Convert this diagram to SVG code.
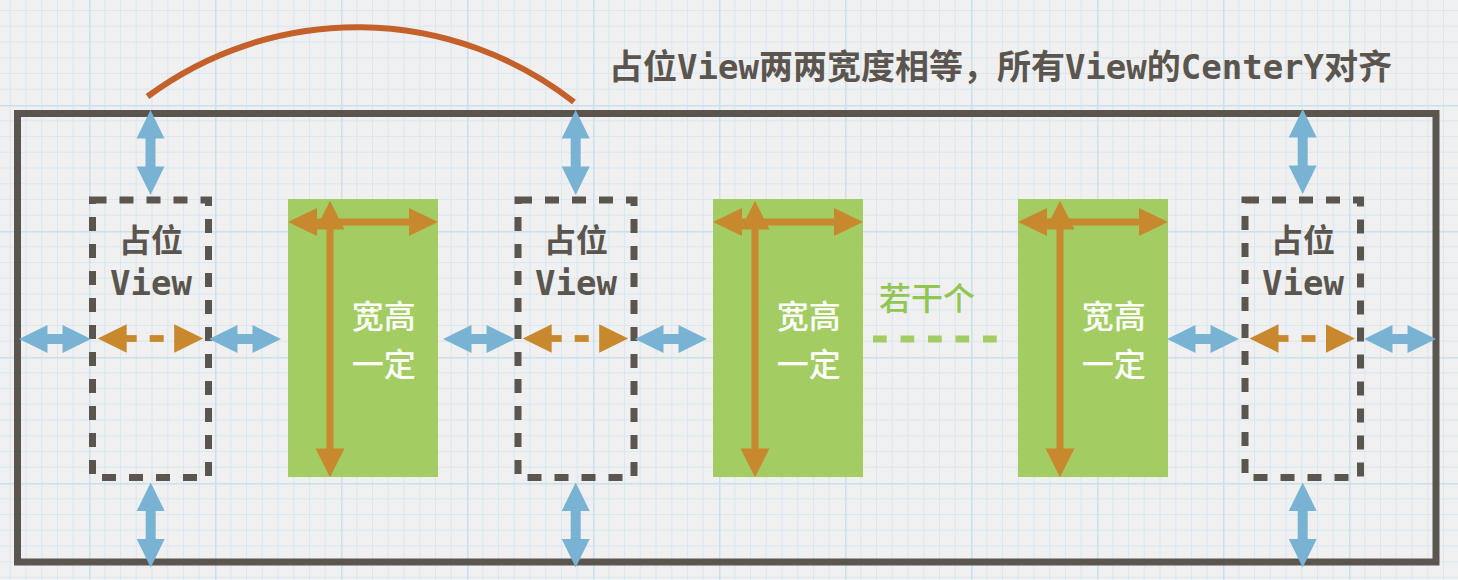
<svg xmlns="http://www.w3.org/2000/svg" xmlns:xlink="http://www.w3.org/1999/xlink" width="1458" height="580" viewBox="0 0 1458 580">
<style>
.txt{font-family:'DejaVu Sans Mono','Noto Sans CJK SC',monospace;font-weight:bold}
.med{font-weight:500}
.dark{fill:#5a554f}
.white{fill:#ffffff}
.greenTxt{fill:#93c553}
.blue{fill:#79b3d4}
.orange{fill:#c8882e}
.ph{fill:none;stroke:#5a554f;stroke-width:7;stroke-dasharray:14 13}
.fix{fill:#a3cd63}
</style>
<defs>
<pattern id="grid" patternUnits="userSpaceOnUse" x="89" y="105" width="126" height="126">
<rect width="126" height="126" fill="#f0f0f0"/>
<path d="M15.75,0V126M31.5,0V126M47.25,0V126M63,0V126M78.75,0V126M94.5,0V126M110.25,0V126M0,15.75H126M0,31.5H126M0,47.25H126M0,63H126M0,78.75H126M0,94.5H126M0,110.25H126" stroke="#d9e7f0" stroke-width="1" fill="none"/>
<path d="M0.5,0V126M0,0.5H126" stroke="#cbe0ec" stroke-width="2" fill="none"/>
</pattern>
<path id="hArrow" d="M0,0 L28.5,-14 L28.5,-5 L43.5,-5 L43.5,-14 L72,0 L43.5,14 L43.5,5 L28.5,5 L28.5,14 Z"/>
<path id="vArrow" d="M0,0 L14,28.5 L5,28.5 L5,56.5 L14,56.5 L0,85 L-14,56.5 L-5,56.5 L-5,28.5 L-14,28.5 Z"/>
<g id="dashArrow">
<path d="M0,0 L29,-14.3 L29,14.3 Z"/>
<rect x="28" y="-3.4" width="11" height="6.8"/>
<rect x="52" y="-3.4" width="14" height="6.8"/>
<path d="M105.5,0 L76.5,-14.3 L76.5,14.3 Z"/>
</g>
<g id="sizeArrows">
<path d="M0,23 L29,9 L29,19.5 L121,19.5 L121,9 L150,23 L121,37 L121,26.5 L29,26.5 L29,37 Z"/>
<path d="M42,1.7 L56.5,30.5 L45.5,30.5 L45.5,249.5 L56.5,249.5 L42,278.3 L27.5,249.5 L38.5,249.5 L38.5,30.5 L27.5,30.5 Z"/>
</g>
</defs>
<rect width="1458" height="580" fill="url(#grid)"/>

<text class="txt dark" x="609" y="79" font-size="34">占位View两两宽度相等，所有View的CenterY对齐</text>

<g id="container">
<rect x="17.5" y="113.5" width="1418.5" height="448.5" fill="none" stroke="#5a554f" stroke-width="7"/>
</g>

<g id="placeholder1">
<rect class="ph" x="92.5" y="200" width="116" height="277.5"/>
<text class="txt dark" x="151" y="251.5" font-size="32" text-anchor="middle">占位</text>
<text class="txt dark" x="151" y="295" font-size="34" text-anchor="middle">View</text>
</g>

<g id="fixed1">
<rect class="fix" x="288" y="199" width="150" height="278"/>
<text class="txt med white" x="383.7" y="327.5" font-size="32" text-anchor="middle">宽高</text>
<text class="txt med white" x="383.7" y="375.5" font-size="32" text-anchor="middle">一定</text>
</g>

<g id="placeholder2">
<rect class="ph" x="518" y="200" width="116" height="277.5"/>
<text class="txt dark" x="576" y="251.5" font-size="32" text-anchor="middle">占位</text>
<text class="txt dark" x="576" y="295" font-size="34" text-anchor="middle">View</text>
</g>

<g id="fixed2">
<rect class="fix" x="713" y="199" width="150" height="278"/>
<text class="txt med white" x="808.7" y="327.5" font-size="32" text-anchor="middle">宽高</text>
<text class="txt med white" x="808.7" y="375.5" font-size="32" text-anchor="middle">一定</text>
</g>

<g id="several">
<text class="txt med greenTxt" x="927" y="310" font-size="32" text-anchor="middle">若干个</text>
<line x1="873" y1="339" x2="997" y2="339" stroke="#a3cd63" stroke-width="7" stroke-dasharray="13.7 13.8"/>
</g>

<g id="fixed3">
<rect class="fix" x="1018" y="199" width="150" height="278"/>
<text class="txt med white" x="1113.7" y="327.5" font-size="32" text-anchor="middle">宽高</text>
<text class="txt med white" x="1113.7" y="375.5" font-size="32" text-anchor="middle">一定</text>
</g>

<g id="placeholder3">
<rect class="ph" x="1245" y="200" width="115.5" height="277.5"/>
<text class="txt dark" x="1303" y="251.5" font-size="32" text-anchor="middle">占位</text>
<text class="txt dark" x="1303" y="295" font-size="34" text-anchor="middle">View</text>
</g>

<g id="connectors">
<path d="M147.5,96.5 A352,352 0 0,1 574,102" fill="none" stroke="#c4612a" stroke-width="6"/>
<g class="blue">
<use xlink:href="#vArrow" x="150.5" y="110"/>
<use xlink:href="#vArrow" x="575.7" y="110"/>
<use xlink:href="#vArrow" x="1302.7" y="109"/>
<use xlink:href="#vArrow" x="150.7" y="482.5"/>
<use xlink:href="#vArrow" x="575.7" y="482.5"/>
<use xlink:href="#vArrow" x="1302.7" y="482.5"/>
<use xlink:href="#hArrow" x="19" y="339"/>
<use xlink:href="#hArrow" x="209" y="339"/>
<use xlink:href="#hArrow" x="443" y="339"/>
<use xlink:href="#hArrow" x="635" y="339"/>
<use xlink:href="#hArrow" x="1167" y="339"/>
<use xlink:href="#hArrow" x="1364" y="339"/>
</g>
<g class="orange">
<use xlink:href="#dashArrow" x="97.7" y="338.5"/>
<use xlink:href="#dashArrow" x="522.7" y="338.5"/>
<use xlink:href="#dashArrow" x="1249.5" y="338.5"/>
<use xlink:href="#sizeArrows" x="288" y="199"/>
<use xlink:href="#sizeArrows" x="713" y="199"/>
<use xlink:href="#sizeArrows" x="1018" y="199"/>
</g>
</g>
</svg>
